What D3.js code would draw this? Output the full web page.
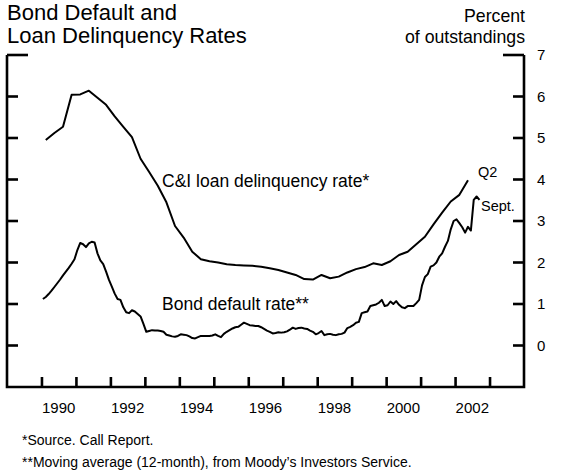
<!DOCTYPE html>
<html>
<head>
<meta charset="utf-8">
<script src="https://cdn.jsdelivr.net/npm/d3@7"></script>
<style>
  body { margin: 0; background: #fff; }
  svg text { font-family: 'Liberation Sans', Arial, Helvetica, sans-serif; fill: #000; }
</style>
</head>
<body>
<div id="chart"></div>
<script>
// C&I loan delinquency rate, quarterly, 1990 Q1 - 2002 Q2 (percent)
const loanStartYear = 1990;
const loanRates = [
  4.95, 5.12, 5.27, 6.04,
  6.05, 6.14, 5.97, 5.80,
  5.52, 5.27, 5.02, 4.50,
  4.18, 3.85, 3.45, 2.88,
  2.60, 2.26, 2.08, 2.03,
  2.00, 1.96, 1.94, 1.93,
  1.92, 1.90, 1.86, 1.82,
  1.76, 1.70, 1.60, 1.59,
  1.70, 1.62, 1.66, 1.76,
  1.84, 1.89, 1.98, 1.94,
  2.03, 2.18, 2.26, 2.44,
  2.62, 2.92, 3.20, 3.47,
  3.63, 3.98,
];

// bond default rate, 12-month moving average, monthly, Jan 1990 - Sept 2002 (percent)
const bondStartYear = 1990;
const bondRates = [
  1.12, 1.17, 1.24, 1.32, 1.41, 1.50, 1.59, 1.69, 1.78, 1.87, 1.97, 2.08,
  2.30, 2.47, 2.44, 2.37, 2.46, 2.50, 2.48, 2.22, 2.05, 1.96, 1.78, 1.58,
  1.42, 1.25, 1.12, 1.10, 0.92, 0.80, 0.78, 0.85, 0.82, 0.76, 0.70, 0.52,
  0.33, 0.35, 0.37, 0.36, 0.36, 0.35, 0.33, 0.26, 0.24, 0.22, 0.21, 0.23,
  0.27, 0.26, 0.25, 0.22, 0.18, 0.17, 0.20, 0.23, 0.23, 0.23, 0.23, 0.24,
  0.27, 0.23, 0.20, 0.28, 0.33, 0.37, 0.41, 0.44, 0.45, 0.50, 0.55, 0.52,
  0.49, 0.48, 0.47, 0.47, 0.44, 0.40, 0.36, 0.33, 0.29, 0.30, 0.32, 0.31,
  0.32, 0.34, 0.38, 0.43, 0.40, 0.42, 0.43, 0.41, 0.40, 0.36, 0.33, 0.27,
  0.30, 0.35, 0.25, 0.27, 0.28, 0.26, 0.25, 0.27, 0.28, 0.31, 0.42, 0.45,
  0.49, 0.55, 0.57, 0.78, 0.80, 0.82, 0.95, 0.97, 0.99, 1.03, 1.10, 0.95,
  0.97, 1.06, 1.00, 1.07, 0.98, 0.92, 0.90, 0.95, 0.95, 0.95, 1.02, 1.10,
  1.45, 1.65, 1.72, 1.90, 1.93, 2.00, 2.14, 2.22, 2.38, 2.52, 2.80, 3.00,
  3.04, 2.95, 2.85, 2.72, 2.86, 2.77, 3.51, 3.59, 3.51,
];

const yearTicks = d3.range(1990, 2004);
const yearLabels = [1990, 1992, 1994, 1996, 1998, 2000, 2002];
const valueTicks = [0, 1, 2, 3, 4, 5, 6, 7];

const width = 565;
const height = 473;
const frame = { left: 7, right: 524, top: 55, bottom: 387 };

const svg = d3
  .select('#chart')
  .append('svg')
  .attr('width', width)
  .attr('height', height);

// scales
const x = d3.scaleLinear().domain([1989, 2004]).range([frame.left, frame.right]);
const y = d3.scaleLinear().domain([-1, 7]).range([frame.bottom, frame.top]);

// titles
svg.append('text')
  .attr('x', 7).attr('y', 20)
  .style('font-size', '22px')
  .text('Bond Default and');
svg.append('text')
  .attr('x', 7).attr('y', 43)
  .style('font-size', '22px')
  .text('Loan Delinquency Rates');
svg.append('text')
  .attr('x', 525).attr('y', 22)
  .attr('text-anchor', 'end')
  .style('font-size', '17.7px')
  .text('Percent');
svg.append('text')
  .attr('x', 525).attr('y', 43)
  .attr('text-anchor', 'end')
  .style('font-size', '17.7px')
  .text('of outstandings');

// frame: left, right and bottom sides
const frameStroke = 2.6;
svg.append('path')
  .attr('d', `M${frame.left},${frame.top}V${frame.bottom}H${frame.right}V${frame.top}`)
  .attr('fill', 'none')
  .attr('stroke', '#000')
  .attr('stroke-width', frameStroke)
  .attr('stroke-linejoin', 'miter');

// right axis labels
const rightAxis = d3.axisRight(y)
  .tickValues(valueTicks)
  .tickSize(0)
  .tickPadding(13)
  .tickFormat(d3.format('d'));
const gRight = svg.append('g')
  .attr('transform', `translate(${frame.right},0)`)
  .call(rightAxis);
gRight.select('.domain').remove();
gRight.selectAll('text')
  .style('font-size', '15px')
  .attr('font-family', null);

// value ticks on both sides (7 forms the top brackets)
valueTicks.forEach((v) => {
  const len = v === 7 ? 21 : 11;
  svg.append('line')
    .attr('x1', frame.left).attr('x2', frame.left + len)
    .attr('y1', y(v)).attr('y2', y(v))
    .attr('stroke', '#000').attr('stroke-width', frameStroke);
  svg.append('line')
    .attr('x1', frame.right - len).attr('x2', frame.right)
    .attr('y1', y(v)).attr('y2', y(v))
    .attr('stroke', '#000').attr('stroke-width', frameStroke);
});

// bottom axis: year ticks, labels in mid-year
const xAxis = d3.axisBottom(x)
  .tickValues(yearTicks)
  .tickSizeInner(-10)
  .tickSizeOuter(0)
  .tickFormat('');
const gBottom = svg.append('g')
  .attr('transform', `translate(0,${frame.bottom})`)
  .call(xAxis);
gBottom.select('.domain').remove();
gBottom.selectAll('.tick line')
  .attr('stroke-width', frameStroke);

svg.append('g')
  .selectAll('text')
  .data(yearLabels)
  .enter()
  .append('text')
  .attr('x', (d) => x(d + 0.5))
  .attr('y', 413)
  .attr('text-anchor', 'middle')
  .style('font-size', '15px')
  .text((d) => d);

// series lines
const loanData = loanRates.map((v, i) => ({ t: loanStartYear + (i + 0.5) / 4, v }));
const bondData = bondRates.map((v, i) => ({ t: bondStartYear + (i + 0.5) / 12, v }));

const line = d3.line()
  .x((d) => x(d.t))
  .y((d) => y(d.v));

svg.append('path')
  .datum(loanData)
  .attr('d', line)
  .attr('fill', 'none')
  .attr('stroke', '#000')
  .attr('stroke-width', 2)
  .attr('stroke-linejoin', 'round');

svg.append('path')
  .datum(bondData)
  .attr('d', line)
  .attr('fill', 'none')
  .attr('stroke', '#000')
  .attr('stroke-width', 2)
  .attr('stroke-linejoin', 'round');

// series labels
svg.append('text')
  .attr('x', 162).attr('y', 187)
  .style('font-size', '17.5px')
  .text('C&I loan delinquency rate*');
svg.append('text')
  .attr('x', 162).attr('y', 310)
  .style('font-size', '17.5px')
  .text('Bond default rate**');
svg.append('text')
  .attr('x', 478).attr('y', 177)
  .style('font-size', '14.5px')
  .text('Q2');
svg.append('text')
  .attr('x', 481).attr('y', 211)
  .style('font-size', '14.5px')
  .text('Sept.');

// footnotes
svg.append('text')
  .attr('x', 22).attr('y', 445)
  .style('font-size', '14px')
  .text('*Source. Call Report.');
svg.append('text')
  .attr('x', 22).attr('y', 467)
  .style('font-size', '14px')
  .text('**Moving average (12-month), from Moody\u2019s Investors Service.');
</script>
</body>
</html>
